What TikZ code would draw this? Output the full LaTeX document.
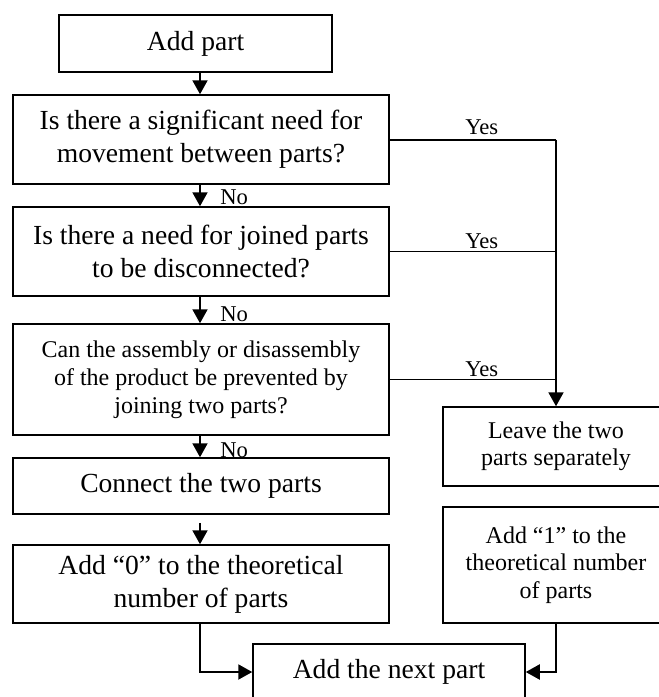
\documentclass[tikz,border=0pt]{standalone}
\usepackage{fontspec}
\setmainfont{Liberation Serif}
\usetikzlibrary{arrows.meta}
\tikzset{
  x=0.5pt, y=-0.5pt,
  box/.style={draw, line width=0.75pt, inner sep=0pt, align=center, fill=white},
  bigtxt/.style={font=\fontsize{13.8}{16.5}\selectfont},
  midtxt/.style={font=\fontsize{12}{14}\selectfont},
  smalltxt/.style={font=\fontsize{12}{13.7}\selectfont},
  lbl/.style={font=\fontsize{11.3}{12}\selectfont, inner sep=0pt},
  flow/.style={line width=1pt, -{Triangle[width=7.5pt,length=7pt]}},
  thickline/.style={line width=1pt},
  thinline/.style={line width=0.55pt},
}
\begin{document}
\begin{tikzpicture}
\useasboundingbox (0,0) rectangle (659,697);
\clip (0,0) rectangle (659,697);
% left column
\node[box, line width=1pt, bigtxt, minimum width=136.5pt, minimum height=28.5pt] (b1) at (195.5,43.5) {Add part};
\node[box, bigtxt, minimum width=188pt, minimum height=44.5pt] (b2) at (201,139.5) {Is there a significant need for\\movement between parts?};
\node[box, bigtxt, minimum width=188pt, minimum height=44.5pt] (b3) at (201,251.5) {Is there a need for joined parts\\to be disconnected?};
\node[box, midtxt, minimum width=188pt, minimum height=55.5pt] (b4) at (201,379.5) {Can the assembly or disassembly\\of the product be prevented by\\joining two parts?};
\node[box, bigtxt, minimum width=188pt, minimum height=28pt] (b5) at (201,486) {Connect the two parts};
\node[box, bigtxt, minimum width=188pt, minimum height=39pt] (b6) at (201,584) {Add “0” to the theoretical\\number of parts};
% right column
\node[box, smalltxt, minimum width=113pt, minimum height=39.5pt] (leave) at (556,446.5) {Leave the two\\parts separately};
\node[box, line width=1pt, smalltxt, minimum width=113pt, minimum height=58pt] (one) at (556,565) {Add “1” to the\\theoretical number\\of parts};
% bottom
\node[box, bigtxt, minimum width=136pt, minimum height=28pt] (next) at (389,672) {Add the next part};

\coordinate (c) at (200,0);
% down arrows
\draw[flow] (c |- b1.south) -- (c |- b2.north);
\draw[flow] (c |- b2.south) -- (c |- b3.north);
\draw[flow] (c |- b3.south) -- (c |- b4.north);
\draw[flow] (c |- b4.south) -- (c |- b5.north);
\draw[flow] ([yshift=-4pt]c |- b5.south) -- (c |- b6.north);
\draw[flow] (c |- b6.south) |- (next.west);
\draw[flow] (one.south) |- (next.east);

% No labels
\node[lbl, anchor=base west] (no1) at (220,204) {No};
\node[lbl, anchor=base west] (no2) at (220,321) {No};
\node[lbl, anchor=base west] (no3) at (220,457) {No};

% Yes branches
\coordinate (j2) at (leave.north |- b3.east);
\coordinate (j3) at (leave.north |- b4.east);
\draw[thickline] (b2.east) -- (leave.north |- b2.east);
\draw[flow] (leave.north |- b2.east) -- (leave.north);
\draw[thinline] (b3.east) -- (j2);
\draw[thinline] (b4.east) -- (j3);
\node[lbl, anchor=base west] (y1) at (465,134) {Yes};
\node[lbl, anchor=base west] (y2) at (465,248) {Yes};
\node[lbl, anchor=base west] (y3) at (465,376) {Yes};
\end{tikzpicture}
\end{document}
